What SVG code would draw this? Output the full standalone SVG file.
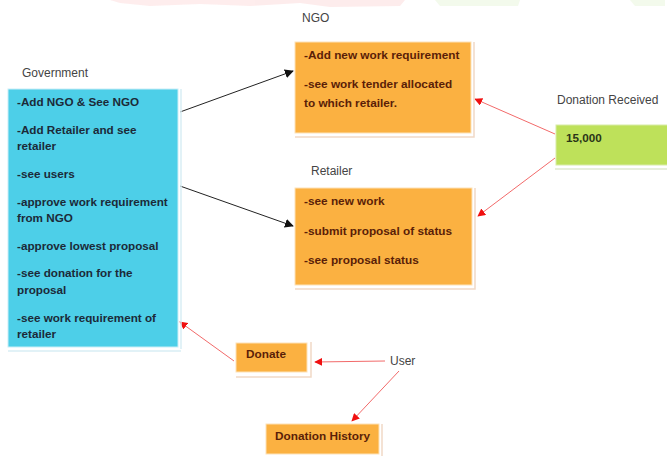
<svg xmlns="http://www.w3.org/2000/svg" width="667" height="457" viewBox="0 0 667 457">
<style>
.lbl{font-family:"Liberation Sans",Arial,sans-serif;font-size:12px;fill:#444}
.gt{font-family:"Liberation Sans",Arial,sans-serif;font-size:11.7px;fill:#1c2a38;font-weight:bold}
.ot{font-family:"Liberation Sans",Arial,sans-serif;font-size:11.8px;fill:#5a1e08;font-weight:bold}
.orange{fill:#fbb141;stroke:#fde2b8;stroke-width:1}
.shadow{fill:none;stroke:#f1d9c6;stroke-width:1.5}
.blk{stroke:#222;stroke-width:1;fill:none;marker-end:url(#ab)}
.red{stroke:#f26a6a;stroke-width:1;fill:none;marker-end:url(#ar)}
</style>
<defs>
<marker id="ab" viewBox="0 0 10 10" refX="9" refY="5" markerWidth="9" markerHeight="9" markerUnits="userSpaceOnUse" orient="auto"><path d="M0,0 L10,5 L0,10 z" fill="#111"/></marker>
<marker id="ar" viewBox="0 0 10 10" refX="9" refY="5" markerWidth="8" markerHeight="8" markerUnits="userSpaceOnUse" orient="auto"><path d="M0,0 L10,5 L0,10 z" fill="#f01010"/></marker>
</defs>
<rect width="667" height="457" fill="#fff"/>
<g id="watermark" opacity="0.45">
<path d="M110,0 L405,0 L400,6 L330,7 L300,3 L250,6 L200,4 L150,6 L120,3 z" fill="#fcd6d6"/>
<path d="M435,0 L520,0 L518,6 L440,6 z" fill="#e6f5d6"/>
<path d="M630,0 L665,0 L665,6 L635,6 z" fill="#e6f5d6"/>
</g>
<g id="connectors">
<line class="blk" x1="180" y1="112" x2="293" y2="71"/>
<line class="blk" x1="180" y1="186" x2="293" y2="226"/>
<line class="red" x1="555" y1="134" x2="475" y2="99"/>
<line class="red" x1="555" y1="158" x2="478" y2="216"/>
<line class="red" x1="234" y1="361" x2="180" y2="322"/>
<line class="red" x1="385" y1="361" x2="315" y2="362"/>
<line class="red" x1="399" y1="371" x2="352" y2="421"/>
</g>
<g id="government">
<text class="lbl" x="22" y="77">Government</text>
<line x1="181" y1="89" x2="181" y2="349" stroke="#d8eef5" stroke-width="1.5"/>
<line x1="8" y1="351" x2="181" y2="351" stroke="#d8eef5" stroke-width="1.5"/>
<rect x="8" y="89" width="170" height="258" fill="#4dcfe8" stroke="#c9eef7" stroke-width="1"/>
<text class="gt" x="17" y="106">-Add NGO &amp; See NGO</text>
<text class="gt" x="17" y="134">-Add Retailer and see</text>
<text class="gt" x="17" y="150">retailer</text>
<text class="gt" x="17" y="178">-see users</text>
<text class="gt" x="17" y="206">-approve work requirement</text>
<text class="gt" x="17" y="222">from NGO</text>
<text class="gt" x="17" y="250">-approve lowest proposal</text>
<text class="gt" x="17" y="277">-see donation for the</text>
<text class="gt" x="17" y="294">proposal</text>
<text class="gt" x="17" y="322">-see work requirement of</text>
<text class="gt" x="17" y="338">retailer</text>
</g>
<g id="ngo">
<text class="lbl" x="302" y="22">NGO</text>
<polyline class="shadow" points="474,42 474,137 295,137"/>
<rect class="orange" x="295" y="42" width="176" height="91"/>
<text class="ot" x="304" y="59">-Add new work requirement</text>
<text class="ot" x="304" y="88">-see work tender allocated</text>
<text class="ot" x="304" y="107">to which retailer.</text>
</g>
<g id="retailer">
<text class="lbl" x="311" y="175">Retailer</text>
<polyline class="shadow" points="475,188 475,289 295,289"/>
<rect class="orange" x="295" y="188" width="177" height="97"/>
<text class="ot" x="304" y="205">-see new work</text>
<text class="ot" x="304" y="235">-submit proposal of status</text>
<text class="ot" x="304" y="264">-see proposal status</text>
</g>
<g id="donation-received">
<text class="lbl" x="557" y="104">Donation Received</text>
<line x1="555" y1="169" x2="667" y2="169" stroke="#dfe9cf" stroke-width="1.5"/>
<rect x="556" y="125" width="112" height="40" fill="#bee15a" stroke="#d8eca6" stroke-width="1"/>
<text class="gt" x="566" y="142" style="fill:#2a3418">15,000</text>
</g>
<g id="donate">
<polyline class="shadow" points="311,342 311,377 236,377"/>
<rect class="orange" x="236" y="343" width="71" height="29"/>
<text class="ot" x="246" y="358">Donate</text>
</g>
<g id="user">
<text class="lbl" x="390" y="365">User</text>
</g>
<g id="donation-history">
<line x1="382" y1="424" x2="382" y2="456" stroke="#f1d9c6" stroke-width="1.5"/>
<rect class="orange" x="266" y="424" width="113" height="30"/>
<text class="ot" x="275" y="440">Donation History</text>
</g>
</svg>
